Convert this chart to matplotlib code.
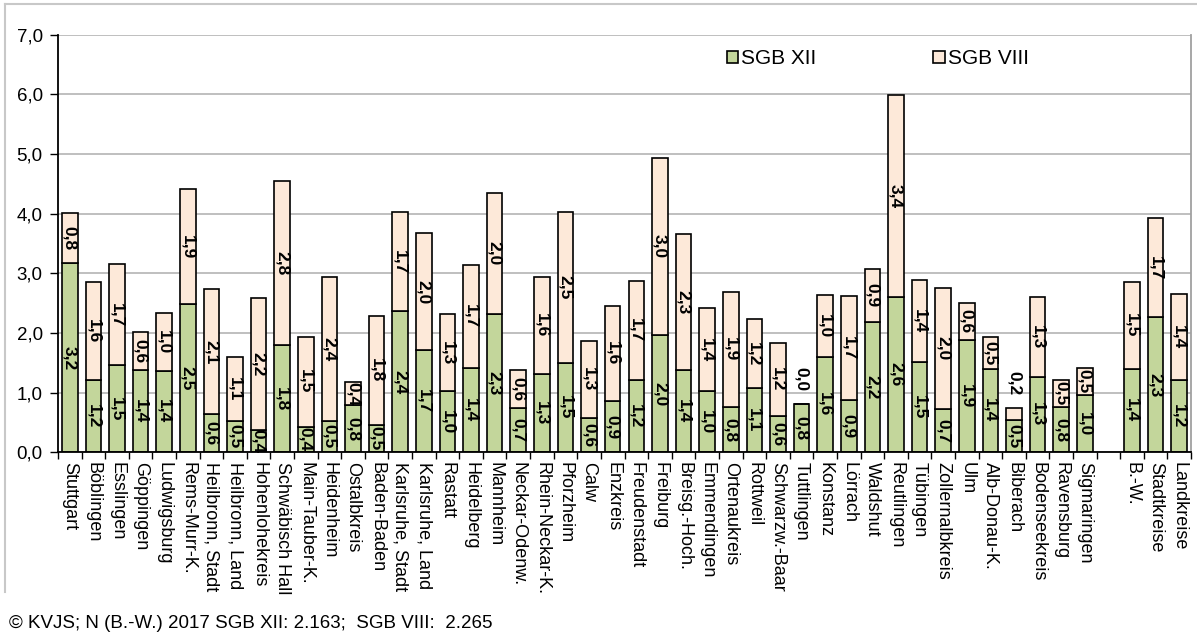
import matplotlib.pyplot as plt
from matplotlib.lines import Line2D
from matplotlib.ticker import FixedLocator

plt.rcParams['font.family'] = ['Liberation Sans', 'DejaVu Sans']

regions = ["Stuttgart", "Böblingen", "Esslingen", "Göppingen", "Ludwigsburg",
           "Rems-Murr-K.", "Heilbronn, Stadt", "Heilbronn, Land", "Hohenlohekreis",
           "Schwäbisch Hall", "Main-Tauber-K.", "Heidenheim", "Ostalbkreis",
           "Baden-Baden", "Karlsruhe, Stadt", "Karlsruhe, Land", "Rastatt",
           "Heidelberg", "Mannheim", "Neckar-Odenw.", "Rhein-Neckar-K.", "Pforzheim",
           "Calw", "Enzkreis", "Freudenstadt", "Freiburg", "Breisg.-Hoch.",
           "Emmendingen", "Ortenaukreis", "Rottweil", "Schwarzw.-Baar", "Tuttlingen",
           "Konstanz", "Lörrach", "Waldshut", "Reutlingen", "Tübingen",
           "Zollernalbkreis", "Ulm", "Alb-Donau-K.", "Biberach", "Bodenseekreis",
           "Ravensburg", "Sigmaringen"]
summary = ["B.-W.", "Stadtkreise", "Landkreise"]

# values per 1,000 (labels show them rounded to one decimal)
sgb12 = [3.17, 1.21, 1.46, 1.38, 1.37, 2.48, 0.64, 0.53, 0.37, 1.79, 0.43, 0.53,
         0.79, 0.46, 2.36, 1.71, 1.02, 1.42, 2.32, 0.74, 1.32, 1.50, 0.57, 0.86,
         1.21, 1.96, 1.38, 1.02, 0.76, 1.07, 0.61, 0.81, 1.60, 0.88, 2.19, 2.61,
         1.51, 0.72, 1.89, 1.40, 0.54, 1.27, 0.76, 0.96,
         1.40, 2.26, 1.22]
sgb8 = [0.84, 1.64, 1.69, 0.64, 0.96, 1.93, 2.09, 1.06, 2.21, 2.76, 1.51, 2.41,
        0.38, 1.83, 1.66, 1.96, 1.30, 1.72, 2.02, 0.64, 1.62, 2.53, 1.30, 1.60,
        1.66, 2.98, 2.27, 1.39, 1.93, 1.16, 1.23, 0.0, 1.03, 1.74, 0.88, 3.37,
        1.37, 2.04, 0.61, 0.54, 0.20, 1.33, 0.46, 0.46,
        1.46, 1.66, 1.43]

labels = regions + summary
# one empty slot between the districts and the summary bars
pos = list(range(len(regions))) + [len(regions) + 1 + i for i in range(len(summary))]

green = "#c3d69b"
peach = "#fde9d9"

fig = plt.figure(figsize=(11.97, 6.33), dpi=100)
ax = fig.add_axes([58/1197, 1 - 452.3/633, (1191 - 58)/1197, (452.3 - 34.6)/633])

w = 0.66
b1 = ax.bar(pos, sgb12, w, color=green, edgecolor="black", linewidth=1.2,
            label="SGB XII", zorder=3)
b2 = ax.bar(pos, sgb8, w, bottom=sgb12, color=peach, edgecolor="black",
            linewidth=1.2, label="SGB VIII", zorder=3)

def fmt(v):
    return f"{v:.1f}".replace(".", ",")

for x, a, b in zip(pos, sgb12, sgb8):
    ax.text(x, a / 2, fmt(a), rotation=-90, ha="center", va="center",
            fontsize=12.5, fontweight="bold", zorder=4)
    if b < 0.3:
        ax.annotate(fmt(b), (x, a + b), xytext=(0, 9), textcoords="offset points",
                    rotation=-90, ha="center", va="bottom",
                    fontsize=12.5, fontweight="bold", zorder=4)
    else:
        ax.text(x, a + b / 2, fmt(b), rotation=-90, ha="center", va="center",
                fontsize=12.5, fontweight="bold", zorder=4)

ax.set_xlim(-0.5, pos[-1] + 0.5)
ax.set_ylim(0, 7)
ax.set_yticks(range(8), [fmt(v) for v in range(8)])
ax.grid(axis="y", color="#b4b4b4", linewidth=1.2, zorder=0)

ax.set_xticks(pos, labels, rotation=-90, ha="center", va="top")
ax.xaxis.set_minor_locator(FixedLocator([p - 0.5 for p in range(pos[-1] + 2)]))
ax.tick_params(axis="x", which="major", length=0, pad=7, labelsize=13)
ax.tick_params(axis="x", which="minor", length=5, width=1, color="black")
ax.tick_params(axis="y", length=6, width=1, labelsize=13.5, pad=5)

for s in ["left", "bottom"]:
    ax.spines[s].set_linewidth(1.3)
    ax.spines[s].set_zorder(5)
ax.spines["right"].set_color("#a0a0a0")
ax.spines["right"].set_linewidth(1.3)
ax.spines["top"].set_visible(False)

ax.legend(handles=[b1, b2], loc="upper left", bbox_to_anchor=(0.583, 0.985), ncol=2,
          frameon=False, fontsize=15, handlelength=0.55, handleheight=0.55,
          handletextpad=0.15, columnspacing=5.6, borderaxespad=0)

# outer frame of the original graphic (top and left edge only)
fig.add_artist(Line2D([5/1197, 1], [1 - 4/633, 1 - 4/633], color="#c8c8c8", lw=1.5))
fig.add_artist(Line2D([5/1197, 5/1197], [1 - 4/633, 1 - 592/633], color="#c8c8c8", lw=1.5))

fig.text(9/1197, 1 - 623/633, "© KVJS; N (B.-W.) 2017 SGB XII: 2.163;  SGB VIII:  2.265",
         fontsize=13.5, ha="left", va="center")

fig.savefig("out.png", dpi=100)
